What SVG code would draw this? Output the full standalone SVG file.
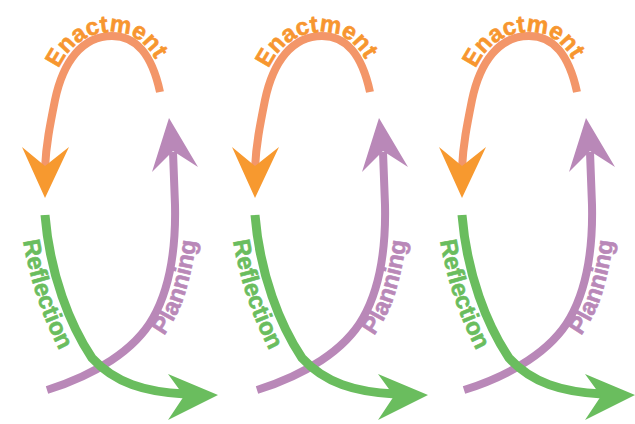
<svg xmlns="http://www.w3.org/2000/svg" xmlns:xlink="http://www.w3.org/1999/xlink" width="635" height="424" viewBox="0 0 635 424">
<style>
.arc{fill:none;stroke-linecap:butt;stroke-linejoin:round}
.or{stroke:#F39669;stroke-width:8}
.pu{stroke:#B988B8;stroke-width:8}
.gr{stroke:#6ABD5E;stroke-width:9}
.orh{fill:#F7992F}
.puh{fill:#B988B8}
.grh{fill:#6ABD5E}
.lbl{font-family:"Liberation Sans",Arial,sans-serif;font-weight:bold;font-size:24px;stroke-width:0.6px}
.tor{fill:#F7962F;stroke:#F7962F}
.tpu{fill:#B988B8;stroke:#B988B8}
.tgr{fill:#6ABD5E;stroke:#6ABD5E}
</style>
<defs>
<path id="pEn" d="M48,110 C54,56 80,32 112,32 C141,32 161,55 169,100"/>
<path id="pRe" d="M20,215 C25,277 50,340 73,373"/>
<path id="pPl" d="M136,366 C160,345 178,320 186,290 C194,262 198,240 198,200"/>
</defs>
<rect width="635" height="424" fill="#ffffff"/>
<g id="connectors">
<g id="arrows-1">
<path class="arc or" d="M160,92 C152,55 137,36 112,36 C82,36 63,62 55,100 C50,125 46,145 45,168"/>
<polygon class="orh" points="22,147 45,166 69,147 45,198"/>
<path class="arc pu" d="M47,390 C95,375 135,350 153,318 C170,288 176,250 175,205 L173,152"/>
<polygon class="puh" points="169,118 198,167 173,151 152,172"/>
<path class="arc gr" d="M45,215 C50,275 70,325 92,358 C115,383 145,392 185,394"/>
<polygon class="grh" points="168,374 218,395 168,420 184,396"/>
</g>
<g id="arrows-2" transform="translate(210,0)">
<path class="arc or" d="M160,92 C152,55 137,36 112,36 C82,36 63,62 55,100 C50,125 46,145 45,168"/>
<polygon class="orh" points="22,147 45,166 69,147 45,198"/>
<path class="arc pu" d="M47,390 C95,375 135,350 153,318 C170,288 176,250 175,205 L173,152"/>
<polygon class="puh" points="169,118 198,167 173,151 152,172"/>
<path class="arc gr" d="M45,215 C50,275 70,325 92,358 C115,383 145,392 185,394"/>
<polygon class="grh" points="168,374 218,395 168,420 184,396"/>
</g>
<g id="arrows-3" transform="translate(417,0)">
<path class="arc or" d="M160,92 C152,55 137,36 112,36 C82,36 63,62 55,100 C50,125 46,145 45,168"/>
<polygon class="orh" points="22,147 45,166 69,147 45,198"/>
<path class="arc pu" d="M47,390 C95,375 135,350 153,318 C170,288 176,250 175,205 L173,152"/>
<polygon class="puh" points="169,118 198,167 173,151 152,172"/>
<path class="arc gr" d="M45,215 C50,275 70,325 92,358 C115,383 145,392 185,394"/>
<polygon class="grh" points="168,374 218,395 168,420 184,396"/>
</g>
</g>
<g id="enactment-1"><text class="lbl tor" text-anchor="middle"><textPath xlink:href="#pEn" startOffset="50%">Enactment</textPath></text></g>
<g id="reflection-1"><text class="lbl tgr" text-anchor="middle"><textPath xlink:href="#pRe" startOffset="50%">Reflection</textPath></text></g>
<g id="planning-1"><text class="lbl tpu" text-anchor="middle"><textPath xlink:href="#pPl" startOffset="50%">Planning</textPath></text></g>
<g id="enactment-2" transform="translate(210,0)"><text class="lbl tor" text-anchor="middle"><textPath xlink:href="#pEn" startOffset="50%">Enactment</textPath></text></g>
<g id="reflection-2" transform="translate(210,0)"><text class="lbl tgr" text-anchor="middle"><textPath xlink:href="#pRe" startOffset="50%">Reflection</textPath></text></g>
<g id="planning-2" transform="translate(210,0)"><text class="lbl tpu" text-anchor="middle"><textPath xlink:href="#pPl" startOffset="50%">Planning</textPath></text></g>
<g id="enactment-3" transform="translate(417,0)"><text class="lbl tor" text-anchor="middle"><textPath xlink:href="#pEn" startOffset="50%">Enactment</textPath></text></g>
<g id="reflection-3" transform="translate(417,0)"><text class="lbl tgr" text-anchor="middle"><textPath xlink:href="#pRe" startOffset="50%">Reflection</textPath></text></g>
<g id="planning-3" transform="translate(417,0)"><text class="lbl tpu" text-anchor="middle"><textPath xlink:href="#pPl" startOffset="50%">Planning</textPath></text></g>
</svg>
